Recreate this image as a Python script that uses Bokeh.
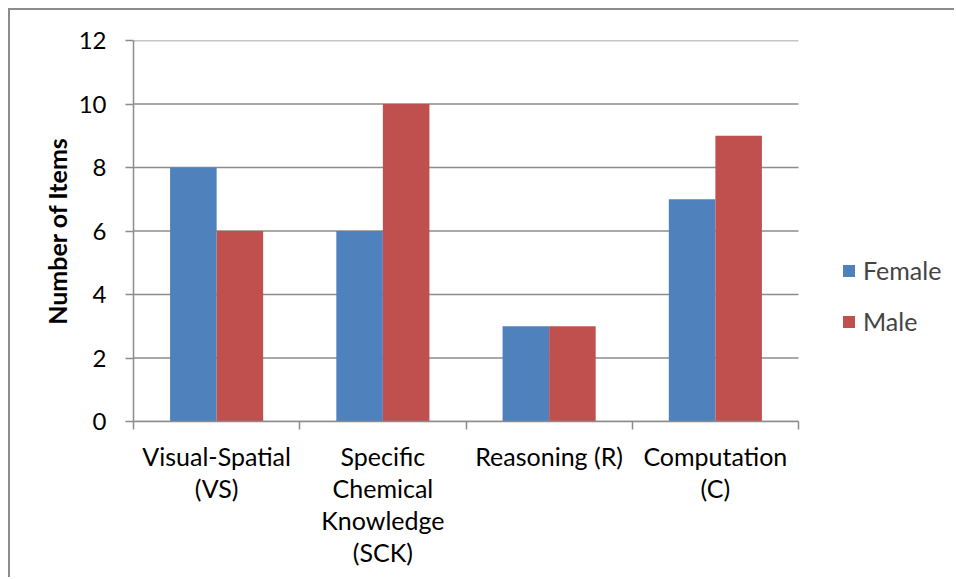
from bokeh.plotting import figure
from bokeh.models import FixedTicker, Range1d, Legend, LegendItem, ColumnDataSource
from bokeh.embed import file_html
from bokeh.resources import INLINE

categories = ["Visual-Spatial\n(VS)", "Specific\nChemical\nKnowledge\n(SCK)", "Reasoning (R)", "Computation\n(C)"]
female = [8, 6, 3, 7]
male = [6, 10, 3, 9]
y_ticks = [0, 2, 4, 6, 8, 10, 12]

FONT = "Lato"
GRAY = "#8c8c8c"

W, H = 946, 569
LEFT, TOP, PLOT_W, PLOT_H = 123, 30, 665, 381
FRAME_W = W - LEFT
n = len(categories)
x_end = n * FRAME_W / PLOT_W   # frame extends under the legend area

p = figure(width=W, height=H, output_backend="svg", toolbar_location=None,
           x_range=Range1d(0, x_end), y_range=Range1d(0, 12),
           min_border_left=LEFT, min_border_top=TOP, min_border_right=0,
           min_border_bottom=H - TOP - PLOT_H,
           styles={"border-left": "2px solid #8c8c8c", "border-top": "2px solid #8c8c8c"})
p.margin = (8, 0, 0, 8)
p.outline_line_color = None
p.background_fill_color = "white"
p.border_fill_color = "white"

# horizontal gridlines, limited to the category span
p.segment(x0=[0] * len(y_ticks), x1=[n] * len(y_ticks), y0=y_ticks, y1=y_ticks,
          line_color=GRAY, line_width=1.5)

xs = [i + 0.5 for i in range(n)]
src = ColumnDataSource(dict(xf=[x - 0.14 for x in xs], xm=[x + 0.14 for x in xs], f=female, m=male))
rf = p.vbar(x="xf", top="f", width=0.28, source=src, fill_color="#4F81BD", line_color=None)
rm = p.vbar(x="xm", top="m", width=0.28, source=src, fill_color="#C0504D", line_color=None)

# x axis
xa = p.xaxis[0]
xa.bounds = (0, n)
xa.ticker = FixedTicker(ticks=xs, minor_ticks=list(range(n + 1)))
xa.major_label_overrides = {x: c for x, c in zip(xs, categories)}
xa.major_tick_out = 0
xa.major_tick_in = 0
xa.minor_tick_out = 8
xa.minor_tick_in = 0
xa.minor_tick_line_color = GRAY
xa.axis_line_color = GRAY
xa.axis_line_width = 1.5
xa.minor_tick_line_width = 1.5
xa.major_label_text_font = FONT
xa.major_label_text_font_size = "25px"
xa.major_label_text_color = "black"
xa.major_label_text_line_height = 1.07
xa.major_label_standoff = 11
xa.major_label_orientation = "horizontal"

# y axis
ya = p.yaxis[0]
ya.ticker = FixedTicker(ticks=y_ticks)
ya.major_tick_out = 8
ya.major_tick_in = 0
ya.minor_tick_out = 0
ya.minor_tick_in = 0
ya.major_tick_line_color = GRAY
ya.major_tick_line_width = 1.5
ya.axis_line_color = GRAY
ya.axis_line_width = 1.5
ya.major_label_text_font = FONT
ya.major_label_text_font_size = "24px"
ya.major_label_text_color = "black"
ya.major_label_standoff = 19
ya.axis_label = "Number of Items"
ya.axis_label_text_font = FONT
ya.axis_label_text_font_size = "25px"
ya.axis_label_text_font_style = "bold"
ya.axis_label_text_color = "black"
ya.axis_label_standoff = 4

p.xgrid.grid_line_color = None
p.ygrid.grid_line_color = None

legend = Legend(items=[LegendItem(label="Female", renderers=[rf]), LegendItem(label="Male", renderers=[rm])],
                location=(PLOT_W + 43, 85), padding=0, margin=0, border_line_color=None,
                background_fill_alpha=0, glyph_width=15, glyph_height=15, label_standoff=7,
                spacing=21, label_text_font=FONT, label_text_font_size="25px", label_height=22)
p.add_layout(legend, "center")

open("out.html", "w").write(file_html(p, INLINE))
